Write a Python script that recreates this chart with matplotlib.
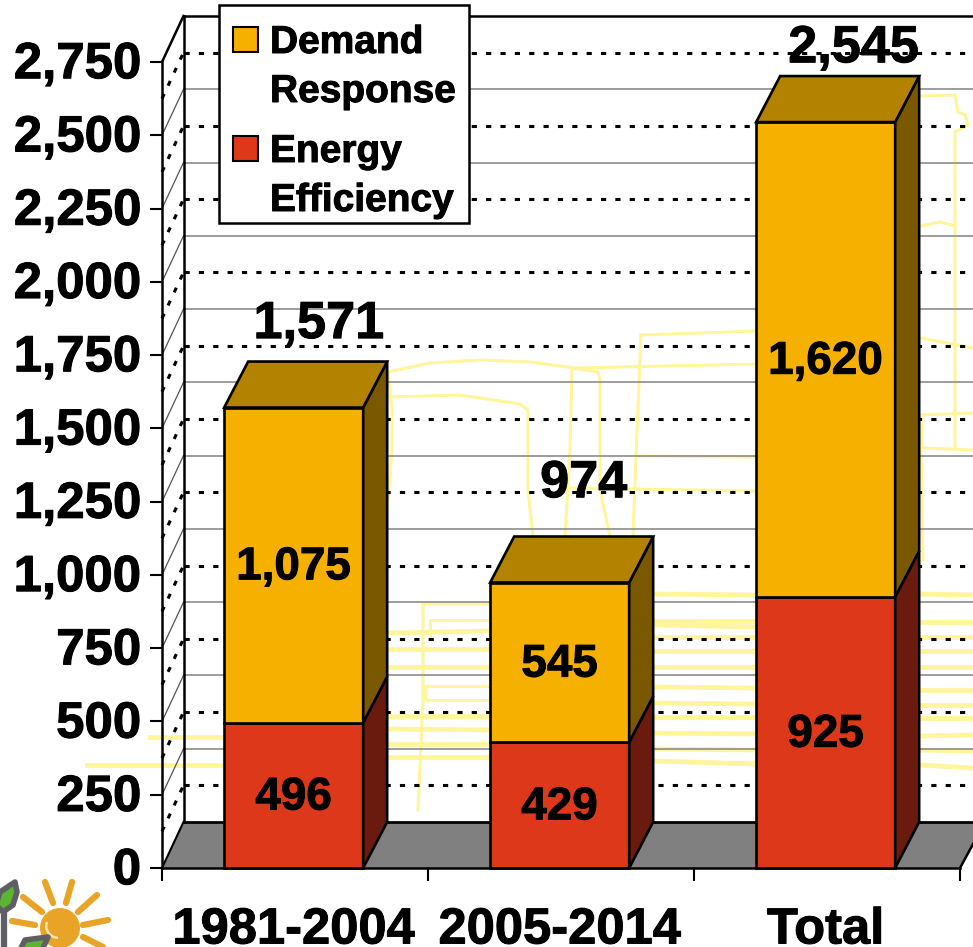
#!/usr/bin/env python3

import matplotlib
matplotlib.use('Agg')
import matplotlib.pyplot as plt
import matplotlib.patheffects as pe
from matplotlib.patches import Polygon, Rectangle, Circle, Wedge
from matplotlib.text import Text
from matplotlib.transforms import Affine2D, ScaledTranslation

plt.rcParams['font.family'] = ['Liberation Sans', 'DejaVu Sans']
plt.rcParams['font.weight'] = 'bold'

periods = ['1981-2004', '2005-2014', 'Total']
energy_efficiency = [496, 429, 925]
demand_response = [1075, 545, 1620]
totals = [1571, 974, 2545]
y_ticks = [0, 250, 500, 750, 1000, 1250, 1500, 1750, 2000, 2250, 2500, 2750]

ORANGE, ORANGE_TOP, ORANGE_SIDE = '#F5B000', '#B38200', '#7A5800'
RED, RED_SIDE = '#DE381A', '#6B1B0E'
FLOOR = '#808080'
TRACE = '#FFF59A'

# faint line drawing that shows through behind the chart, in image pixels
trace_lines = [
    [(150, 737), (224, 737)], [(87, 765), (224, 765)],
    [(388, 633), (490, 631)], [(388, 649), (490, 649)], [(388, 667), (490, 667)],
    [(388, 716), (490, 716)], [(388, 729), (490, 730)], [(388, 744), (490, 744)],
    [(388, 757), (490, 757)],
    [(490, 604), (423, 604), (423, 700), (418, 810)],
    [(490, 620), (430, 620), (430, 636)],
    [(490, 686), (425, 686), (425, 700), (490, 700)],
    [(654, 594), (757, 595)], [(654, 621), (757, 621)], [(654, 625), (757, 627)],
    [(654, 637), (757, 637)], [(654, 651), (757, 651)], [(654, 667), (757, 667)],
    [(654, 687), (757, 688)], [(654, 703), (757, 704)], [(654, 717), (757, 717)],
    [(654, 733), (757, 734)], [(654, 749), (757, 750)], [(654, 761), (757, 764)],
    [(921, 594), (973, 595)], [(921, 622), (973, 622)], [(921, 637), (973, 637)],
    [(921, 651), (973, 651)], [(921, 667), (973, 667)], [(921, 690), (973, 690)],
    [(921, 705), (973, 705)], [(921, 718), (973, 718)], [(921, 736), (973, 735)],
    [(921, 750), (973, 751)], [(921, 765), (973, 768)],
    [(388, 372), (430, 363), (480, 360), (530, 362), (575, 368), (757, 364)],
    [(388, 397), (460, 395), (520, 404), (528, 410), (528, 490), (533, 536)],
    [(572, 368), (598, 372), (600, 380), (600, 490), (610, 536)],
    [(572, 368), (570, 450), (565, 536)],
    [(641, 335), (757, 331)], [(641, 335), (636, 456), (633, 536)],
    [(636, 456), (757, 457)], [(570, 488), (757, 491)],
    [(388, 372), (392, 410), (392, 450), (388, 500)],
    [(921, 96), (955, 95), (958, 112), (965, 115), (968, 125), (955, 132), (955, 448)],
    [(921, 226), (940, 222), (955, 226)],
    [(921, 338), (973, 348)], [(921, 415), (973, 413)],
    [(921, 415), (922, 448), (973, 450)], [(921, 448), (923, 560)],
]

fig = plt.figure(figsize=(9.73, 9.47), dpi=100)
ax = fig.add_axes([162 / 973, (947 - 868) / 947, (960 - 162) / 973, (868 - 62) / 947])
ax.set_xlim(-0.5, 2.5)
ax.set_ylim(0, 2750)

pixels = Affine2D().scale(1, -1).translate(0, 947)
depth_x = 24 / 266
depth_y = 157
bar_width = 139 / 266
bar_pos = [i - 0.005 for i in range(len(periods))]
wall_left = -0.5 + 21.5 / 266
wall_right = 2.6
dots = (1.7, 3.0)

# total labels sit at their own spot above each box
total_label_y = [1808, 1265, 2749]
total_label_shift = [0.095, 0.09, 0.105]

# floor and walls
ax.add_patch(Polygon([(-0.5, 0), (wall_left, depth_y), (wall_right, depth_y), (2.5 + depth_x, depth_y),
                      (2.5, 0)], closed=True, fc=FLOOR, ec='none', clip_on=False, zorder=1))
ax.plot([2.5, 2.5 + 0.06], [0, 100], color='black', lw=1.8, clip_on=False, zorder=2)

for pts in trace_lines:
    xs, ys = zip(*pts)
    wide = len(pts) == 2 and ys[0] > 590
    ax.plot(xs, ys, color=TRACE, lw=3.4 if wide else 2.2, transform=pixels, clip_on=False, zorder=1.5)

for v in y_ticks[1:-1]:
    ax.plot([wall_left, wall_right], [v + depth_y, v + depth_y], color='#8c8c8c', lw=1.2, clip_on=False, zorder=2)
    ax.plot([-0.5, wall_left], [v, v + depth_y], color='#555555', lw=0.9, clip_on=False, zorder=2)
for v in y_ticks[:-1]:
    m = v + 125
    ax.plot([wall_left, wall_right], [m + depth_y, m + depth_y], color='black', lw=2.2,
            dashes=dots, clip_on=False, zorder=2.2)
    ax.plot([-0.5, wall_left], [m, m + depth_y], color='black', lw=2.2,
            dashes=dots, clip_on=False, zorder=2.2)

ax.plot([wall_left, wall_right], [depth_y, depth_y], color='black', lw=2, clip_on=False, zorder=2.5)
ax.plot([wall_left, wall_left], [depth_y, 2750 + depth_y], color='black', lw=1.8, clip_on=False, zorder=2.5)
ax.plot([wall_left, wall_right], [2750 + depth_y, 2750 + depth_y], color='black', lw=1.8, clip_on=False, zorder=2.5)
ax.plot([-0.5, wall_left], [2750, 2750 + depth_y], color='black', lw=1.8, clip_on=False, zorder=2.5)
ax.plot([-0.5, wall_left], [0, depth_y], color='black', lw=1.5, clip_on=False, zorder=2.5)

# stacked boxes
for i, x in enumerate(bar_pos):
    left = x - bar_width / 2
    right = x + bar_width / 2
    low, high = energy_efficiency[i], totals[i]
    ax.bar(x, low, bar_width, color=RED, ec='black', lw=1.9, clip_on=False, zorder=3)
    ax.bar(x, demand_response[i], bar_width, bottom=low, color=ORANGE, ec='black', lw=1.9, clip_on=False, zorder=3)
    ax.add_patch(Polygon([(right, 0), (right + depth_x, depth_y), (right + depth_x, low + depth_y), (right, low)],
                         closed=True, fc=RED_SIDE, ec='black', lw=1.9, clip_on=False, zorder=3))
    ax.add_patch(Polygon([(right, low), (right + depth_x, low + depth_y), (right + depth_x, high + depth_y), (right, high)],
                         closed=True, fc=ORANGE_SIDE, ec='black', lw=1.9, clip_on=False, zorder=3))
    ax.add_patch(Polygon([(left, high), (left + depth_x, high + depth_y), (right + depth_x, high + depth_y), (right, high)],
                         closed=True, fc=ORANGE_TOP, ec='black', lw=1.9, clip_on=False, zorder=3))
    ax.annotate(f'{low:,}', (x, low / 2), xytext=(0, 2), textcoords='offset points',
                ha='center', va='center_baseline', fontsize=33, zorder=4)
    ax.annotate(f'{demand_response[i]:,}', (x, low + demand_response[i] / 2), xytext=(0, 2), textcoords='offset points',
                ha='center', va='center_baseline', fontsize=33, zorder=4)
    ax.text(x + total_label_shift[i], total_label_y[i], f'{totals[i]:,}', ha='center',
            va='baseline', fontsize=37.6, zorder=4)

# axes
for side in ['top', 'right']:
    ax.spines[side].set_visible(False)
for side in ['left', 'bottom']:
    ax.spines[side].set_linewidth(1.8)
    ax.spines[side].set_zorder(5)
ax.patch.set_visible(False)
ax.set_yticks(y_ticks)
ax.set_yticklabels([f'{v:,}' for v in y_ticks], fontsize=36.7)
ax.tick_params(axis='y', length=9, width=1.5, pad=6)
for lab in ax.get_yticklabels():
    lab.set_transform(lab.get_transform() + ScaledTranslation(0, 2 / 72, fig.dpi_scale_trans))
ax.set_xticks([-0.5, 0.5, 1.5, 2.5])
ax.set_xticklabels([])
ax.tick_params(axis='x', which='major', length=9, width=1.5)
ax.set_xticks(bar_pos, minor=True)
ax.set_xticklabels(periods, minor=True, fontsize=36.5)
ax.tick_params(axis='x', which='minor', length=0, pad=27)

# legend box
ov = dict(transform=pixels, clip_on=False, zorder=6)
ax.add_patch(Rectangle((219, 5), 250, 218, fc='white', ec='black', lw=1.8, **ov))
ax.add_patch(Rectangle((233, 27), 25, 25, fc=ORANGE, ec='black', lw=1.5, **ov))
ax.add_patch(Rectangle((233, 136), 25, 25, fc=RED, ec='black', lw=1.5, **ov))
for y, txt in [(53, 'Demand'), (102, 'Response'), (162, 'Energy'), (211, 'Efficiency')]:
    ax.text(270, y, txt, transform=pixels, fontsize=28, va='baseline', ha='left', zorder=7, clip_on=False)

# logo in the corner
SUN = '#E8A427'
LEAF_EDGE = '#5F5F63'
LEAF = '#5CB531'
logo = dict(transform=pixels, clip_on=False, zorder=6)
ax.add_patch(Circle((60, 928), 20, fc=SUN, ec='none', **logo))
ax.add_patch(Wedge((58, 926), 13, 90, 200, width=2.5, fc='#FBE3B0', ec='none', **logo))
for x0, y0, x1, y1 in [(45, 882, 53, 903), (72, 882, 66, 903), (97, 895, 78, 912), (23, 897, 42, 912),
                       (12, 921, 35, 925), (108, 920, 83, 925), (83, 937, 103, 947)]:
    ax.plot([x0, x1], [y0, y1], color=SUN, lw=4.5, solid_capstyle='round', **logo)
ax.plot([4, 4], [905, 947], color=LEAF_EDGE, lw=4.5, **logo)
ax.add_patch(Polygon([(15, 882), (17, 892), (13, 905), (3, 912), (-4, 905), (0, 892)], closed=True,
                     fc=LEAF, ec=LEAF_EDGE, lw=4, joinstyle='round', **logo))
ax.add_patch(Polygon([(20, 950), (25, 940), (48, 937), (42, 950)], closed=True,
                     fc=LEAF, ec=LEAF_EDGE, lw=4, joinstyle='round', **logo))

# the original lettering is heavier than the bold face here
for t in fig.findobj(Text):
    t.set_path_effects([pe.withStroke(linewidth=0.7, foreground='black')])

fig.savefig('out.png', dpi=100)
